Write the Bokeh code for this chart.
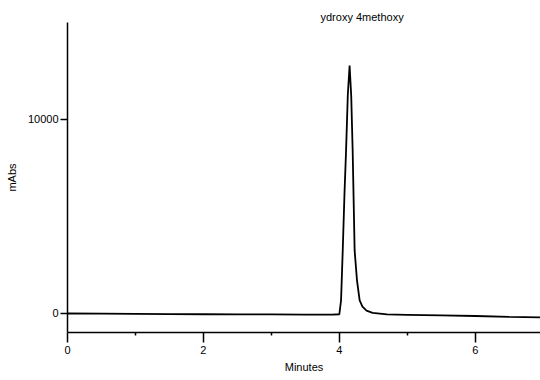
from bokeh.plotting import figure
from bokeh.models import Range1d, FixedTicker
from bokeh.embed import file_html
from bokeh.resources import INLINE

# chromatogram trace (minutes, mAbs)
minutes = [0.0, 0.5, 1.0, 1.5, 2.0, 2.5, 3.0, 3.5, 3.9, 4.0, 4.025, 4.05, 4.075,
           4.099, 4.125, 4.151, 4.175, 4.196, 4.225, 4.26, 4.299, 4.34, 4.40,
           4.49, 4.7, 5.0, 5.5, 6.0, 6.5, 6.96]
mabs = [0, -10, -20, -30, -40, -45, -50, -55, -60, -40, 670, 3250, 6100,
        8400, 11300, 12780, 11200, 8400, 3250, 1700, 670, 350, 150,
        30, -50, -70, -100, -130, -170, -200]

x_ticks = [0, 2, 4, 6]
x_minor = [1, 3, 5]
y_ticks = [0, 10000]
peak_name = "ydroxy 4methoxy"
x_title = "Minutes"
y_title = "mAbs"

p = figure(width=540, height=380, output_backend="svg", toolbar_location=None,
           x_range=Range1d(0, 6.96), y_range=Range1d(-980, 15000),
           min_border_left=67, min_border_right=0, min_border_top=22,
           min_border_bottom=48)
p.outline_line_color = None
p.grid.visible = False

font = "Liberation Sans"
p.title.text = peak_name
p.title.align = "left"
p.title.offset = 253
p.title.standoff = 0
p.title.text_font = font
p.title.text_font_size = "11px"
p.title.text_font_style = "normal"
p.title.text_color = "black"

p.line(minutes, mabs, line_color="black", line_width=1.8)

for ax in (p.xaxis[0], p.yaxis[0]):
    ax.axis_line_color = "black"
    ax.axis_line_width = 1.5
    ax.major_tick_line_color = "black"
    ax.major_tick_line_width = 1.5
    ax.major_tick_in = 0
    ax.major_label_text_font = font
    ax.major_label_text_font_size = "11px"
    ax.major_label_text_color = "black"
    ax.axis_label_text_font = font
    ax.axis_label_text_font_size = "11px"
    ax.axis_label_text_font_style = "normal"
    ax.axis_label_text_color = "black"

p.xaxis.ticker = FixedTicker(ticks=x_ticks, minor_ticks=x_minor)
p.xaxis.major_tick_out = 10
p.xaxis.minor_tick_out = 3
p.xaxis.minor_tick_in = 0
p.xaxis.minor_tick_line_color = "black"
p.xaxis.minor_tick_line_width = 1.5
p.xaxis.major_label_standoff = 3
p.xaxis.axis_label = x_title
p.xaxis.axis_label_standoff = 4

p.yaxis.ticker = FixedTicker(ticks=y_ticks)
p.yaxis.major_tick_out = 7
p.yaxis.minor_tick_line_color = None
p.yaxis.major_label_standoff = 2
p.yaxis.axis_label = y_title
p.yaxis.axis_label_standoff = 7

open("out.html", "w").write(file_html(p, INLINE))
